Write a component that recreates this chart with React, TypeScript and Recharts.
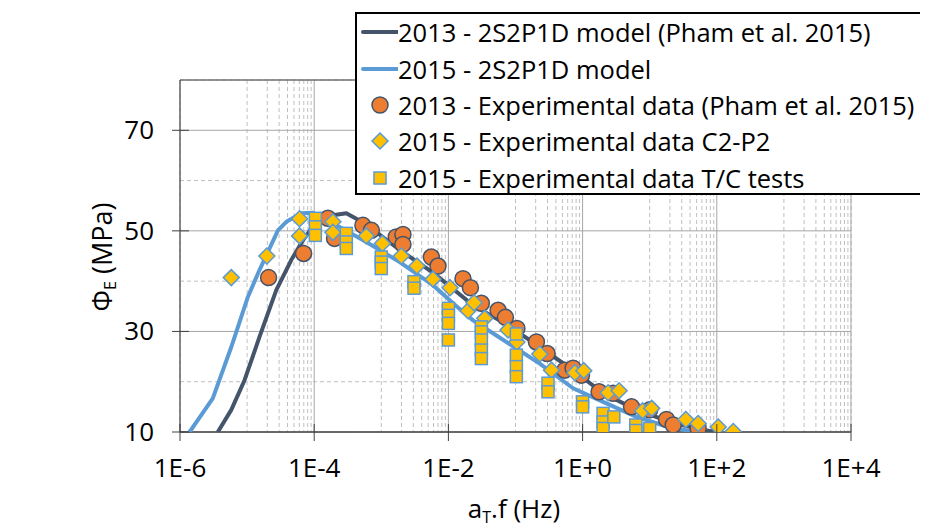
import React from "react";
import { ComposedChart, Scatter, XAxis, YAxis, CartesianGrid } from "recharts";

const FONT = '"Open Sans", "DejaVu Sans", sans-serif';
const AXIS_COLOR = "#404040";

// 2013 - 2S2P1D model (Pham et al. 2015)
const model2013Freq = [3.66e-6, 5.81e-6, 9.16e-6, 1.53e-5, 2.72e-5, 4.55e-5, 6.78e-5, 1.07e-4, 1.9e-4, 3.01e-4, 5.98e-4, 1.88e-3, 5.89e-3, 2.33e-2, 7.33e-2, 0.23, 0.721, 2.02, 6.37, 20.0, 62.7, 99.3];
const model2013Phi = [10.0, 14.4, 20.3, 28.9, 38.2, 44.2, 48.1, 51.8, 53.1, 53.5, 51.3, 46.2, 41.7, 35.2, 31.4, 26.9, 22.3, 17.7, 14.4, 12.0, 10.4, 10.0];

// 2015 - 2S2P1D model
const model2015Freq = [1.39e-6, 3.08e-6, 5.81e-6, 1.03e-5, 1.53e-5, 2.88e-5, 3.84e-5, 6.43e-5, 9.57e-5, 1.9e-4, 5.98e-4, 1.88e-3, 5.89e-3, 1.32e-2, 2.33e-2, 7.33e-2, 0.23, 0.721, 2.02, 6.37, 20.0, 50.0];
const model2015Phi = [10.0, 16.7, 26.9, 36.9, 42.2, 50.1, 51.8, 53.5, 53.6, 51.5, 47.8, 43.8, 39.2, 35.0, 32.2, 27.9, 23.6, 18.7, 16.0, 13.0, 10.9, 10.0];

// 2013 - Experimental data (Pham et al. 2015)
const exp2013Freq = [2.09e-5, 6.95e-5, 1.6e-4, 2.01e-4, 5.32e-4, 7.11e-4, 1.67e-3, 2.1e-3, 2.1e-3, 5.57e-3, 7.0e-3, 1.65e-2, 2.13e-2, 3.1e-2, 5.5e-2, 7.08e-2, 0.105, 0.205, 0.296, 0.543, 0.721, 0.962, 1.76, 2.85, 5.36, 10.0, 17.8, 22.4, 52.7];
const exp2013Phi = [40.7, 45.5, 52.5, 48.5, 51.1, 50.1, 48.8, 49.3, 47.3, 44.8, 43.0, 40.5, 38.7, 35.6, 34.2, 32.8, 30.6, 27.9, 25.6, 22.3, 22.7, 21.3, 18.0, 17.7, 15.0, 14.4, 12.5, 11.4, 10.7];

// 2015 - Experimental data C2-P2
const expC2P2Freq = [5.81e-6, 1.97e-5, 6.05e-5, 6.05e-5, 1.9e-4, 1.9e-4, 5.98e-4, 1.04e-3, 1.99e-3, 3.4e-3, 5.89e-3, 1.06e-2, 1.96e-2, 2.41e-2, 3.48e-2, 7.74e-2, 0.105, 0.23, 0.344, 0.766, 1.04, 2.4, 3.5, 7.82, 10.7, 34.6, 52.7, 105, 176];
const expC2P2Phi = [40.7, 45.0, 52.4, 49.0, 51.8, 49.7, 49.0, 47.5, 45.0, 43.0, 40.4, 38.7, 34.1, 35.7, 32.6, 30.3, 27.9, 25.5, 22.3, 21.8, 22.2, 17.8, 18.2, 14.2, 14.7, 12.5, 11.7, 11.0, 10.1];

// 2015 - Experimental data T/C tests
const expTCFreq = [1.04e-4, 1.04e-4, 1.04e-4, 3.01e-4, 3.01e-4, 3.01e-4, 1.0e-3, 1.0e-3, 1.0e-3, 3.07e-3, 3.07e-3, 1e-2, 1e-2, 1e-2, 1e-2, 3.1e-2, 3.1e-2, 3.1e-2, 3.1e-2, 3.1e-2, 0.103, 0.103, 0.103, 0.103, 0.305, 0.305, 1.0, 1.0, 2.02, 2.02, 2.02, 2.92, 6.21, 6.21, 10.0];
const expTCPhi = [52.5, 50.8, 49.1, 49.5, 47.8, 46.5, 44.8, 43.8, 42.5, 39.9, 38.6, 34.6, 33.2, 31.6, 28.3, 30.9, 29.9, 28.3, 26.3, 24.6, 29.5, 25.3, 23.0, 21.0, 19.7, 18.0, 16.0, 15.0, 13.7, 12.0, 10.7, 13.0, 11.4, 10.3, 10.7];

const X_TICKS = [1e-6, 1e-4, 1e-2, 1, 1e2, 1e4];
const X_TICK_LABELS = ["1E-6", "1E-4", "1E-2", "1E+0", "1E+2", "1E+4"];
const X_MINOR = [1e-5, 1e-3, 1e-1, 10, 1000].flatMap((d) => [1, 2, 3, 4, 5, 6, 7, 8, 9].map((j) => j * d));
const Y_TICKS = [10, 30, 50, 70];
const Y_MINOR = [20, 40, 60];

const zip = (f: number[], p: number[]) => f.map((v, i) => ({ f: v, phi: p[i] }));

const XTick = (props: any) => {
  const { x, y, payload } = props;
  return (
    <g>
      <line x1={x} x2={x} y1={y - 8} y2={y + 9} stroke={AXIS_COLOR} />
      <text x={x} y={y + 45} textAnchor="middle" fontSize={26} fontFamily={FONT} fill="#000">
        {X_TICK_LABELS[X_TICKS.indexOf(payload.value)]}
      </text>
    </g>
  );
};

const YTick = (props: any) => {
  const { x, y, payload } = props;
  return (
    <g>
      <line x1={x - 8} x2={x + 9} y1={y} y2={y} stroke={AXIS_COLOR} />
      <text x={x - 26} y={y + 9} textAnchor="end" fontSize={26} fontFamily={FONT} fill="#000">
        {payload.value}
      </text>
    </g>
  );
};

const CircleDot = (p: any) => (
  <circle cx={p.cx} cy={p.cy} r={8} fill="#ED7D31" stroke="#44546A" strokeWidth={1.5} />
);
const DiamondDot = (p: any) => {
  const s = 8;
  return (
    <path
      d={`M${p.cx},${p.cy - s}L${p.cx + s},${p.cy}L${p.cx},${p.cy + s}L${p.cx - s},${p.cy}Z`}
      fill="#FFC000"
      stroke="#5B9BD5"
      strokeWidth={1.5}
    />
  );
};
const SquareDot = (p: any) => (
  <rect x={p.cx - 6} y={p.cy - 6} width={12} height={12} fill="#FFC000" stroke="#5B9BD5" strokeWidth={1.5} />
);
const NoDot = () => <g />;

const LEGEND = [
  { label: "2013 - 2S2P1D model (Pham et al. 2015)", kind: "line", color: "#44546A" },
  { label: "2015 - 2S2P1D model", kind: "line", color: "#5B9BD5" },
  { label: "2013 - Experimental data (Pham et al. 2015)", kind: "circle" },
  { label: "2015 - Experimental data C2-P2", kind: "diamond" },
  { label: "2015 - Experimental data T/C tests", kind: "square" },
];

function LegendIcon({ kind, color }: { kind: string; color?: string }) {
  return (
    <svg width={41} height={36} style={{ display: "block", flexShrink: 0 }}>
      {kind === "line" && <line x1={6} x2={41} y1={18} y2={18} stroke={color} strokeWidth={4} strokeLinecap="round" />}
      {kind === "circle" && <CircleDot cx={23} cy={18} />}
      {kind === "diamond" && <DiamondDot cx={23} cy={18} />}
      {kind === "square" && <SquareDot cx={23} cy={18} />}
    </svg>
  );
}

export default function App() {
  return (
    <div style={{ position: "relative", width: 928, height: 531, margin: -8, overflow: "hidden", background: "#fff" }}>
      <div
        style={{
          position: "absolute",
          left: 6,
          top: 6,
          width: 960,
          height: 560,
          borderLeft: "1.5px solid #D9D9D9",
          borderTop: "1.5px solid #D9D9D9",
        }}
      />
      <ComposedChart width={928} height={531} margin={{ top: 80, right: 77, bottom: 69, left: 100 }}>
        <XAxis
          xAxisId="x"
          dataKey="f"
          type="number"
          scale="log"
          domain={[1e-6, 1e4]}
          allowDataOverflow
          ticks={X_TICKS}
          interval={0}
          height={30}
          tickSize={0}
          tickMargin={0}
          tick={<XTick />}
          stroke={AXIS_COLOR}
        />
        <XAxis xAxisId="xm" dataKey="f" type="number" scale="log" domain={[1e-6, 1e4]} allowDataOverflow ticks={X_MINOR} interval={0} hide />
        <YAxis
          yAxisId="y"
          dataKey="phi"
          type="number"
          domain={[10, 80]}
          allowDataOverflow
          ticks={Y_TICKS}
          interval={0}
          width={80}
          tickSize={0}
          tickMargin={0}
          tick={<YTick />}
          stroke={AXIS_COLOR}
        />
        <YAxis yAxisId="ym" dataKey="phi" type="number" domain={[10, 80]} allowDataOverflow ticks={Y_MINOR} interval={0} hide />
        <YAxis yAxisId="yt" dataKey="phi" type="number" domain={[10, 80]} allowDataOverflow ticks={[80]} interval={0} hide />
        <CartesianGrid xAxisId="xm" yAxisId="ym" stroke="#BFBFBF" strokeDasharray="4 3" />
        <CartesianGrid xAxisId="x" yAxisId="y" stroke="#A6A6A6" />
        <CartesianGrid xAxisId="x" yAxisId="yt" vertical={false} stroke="#595959" />

        <Scatter
          xAxisId="x"
          yAxisId="y"
          data={zip(model2013Freq, model2013Phi)}
          fill="#44546A"
          line={{ stroke: "#44546A", strokeWidth: 4, strokeLinejoin: "round" }}
          shape={<NoDot />}
          isAnimationActive={false}
        />
        <Scatter
          xAxisId="x"
          yAxisId="y"
          data={zip(model2015Freq, model2015Phi)}
          fill="#5B9BD5"
          line={{ stroke: "#5B9BD5", strokeWidth: 4, strokeLinejoin: "round" }}
          shape={<NoDot />}
          isAnimationActive={false}
        />
        <Scatter xAxisId="x" yAxisId="y" data={zip(exp2013Freq, exp2013Phi)} shape={<CircleDot />} isAnimationActive={false} />
        <Scatter xAxisId="x" yAxisId="y" data={zip(expC2P2Freq, expC2P2Phi)} shape={<DiamondDot />} isAnimationActive={false} />
        <Scatter xAxisId="x" yAxisId="y" data={zip(expTCFreq, expTCPhi)} shape={<SquareDot />} isAnimationActive={false} />
      </ComposedChart>

      <svg width={928} height={531} style={{ position: "absolute", left: 0, top: 0, pointerEvents: "none" }}>
        <text transform="rotate(-90)" x={-257} y={112} textAnchor="middle" fontSize={27} fontFamily={FONT} fill="#000">
          Φ<tspan fontSize={16} dy={4}>E</tspan>
          <tspan dy={-4}> (MPa)</tspan>
        </text>
        <text x={514} y={518} textAnchor="middle" fontSize={26} fontFamily={FONT} fill="#000">
          a<tspan fontSize={16} dy={5}>T</tspan>
          <tspan dy={-5}>.f (Hz)</tspan>
        </text>
      </svg>

      <div
        style={{
          position: "absolute",
          left: 355,
          top: 12,
          width: 572,
          height: 183,
          boxSizing: "border-box",
          border: "2px solid #000",
          background: "#fff",
          fontFamily: FONT,
          fontSize: 25.5,
          color: "#000",
        }}
      >
        {LEGEND.map((item) => (
          <div key={item.label} style={{ display: "flex", alignItems: "center", height: 36.4, whiteSpace: "nowrap" }}>
            <LegendIcon kind={item.kind} color={item.color} />
            <span style={{ lineHeight: "36px" }}>{item.label}</span>
          </div>
        ))}
      </div>
    </div>
  );
}
